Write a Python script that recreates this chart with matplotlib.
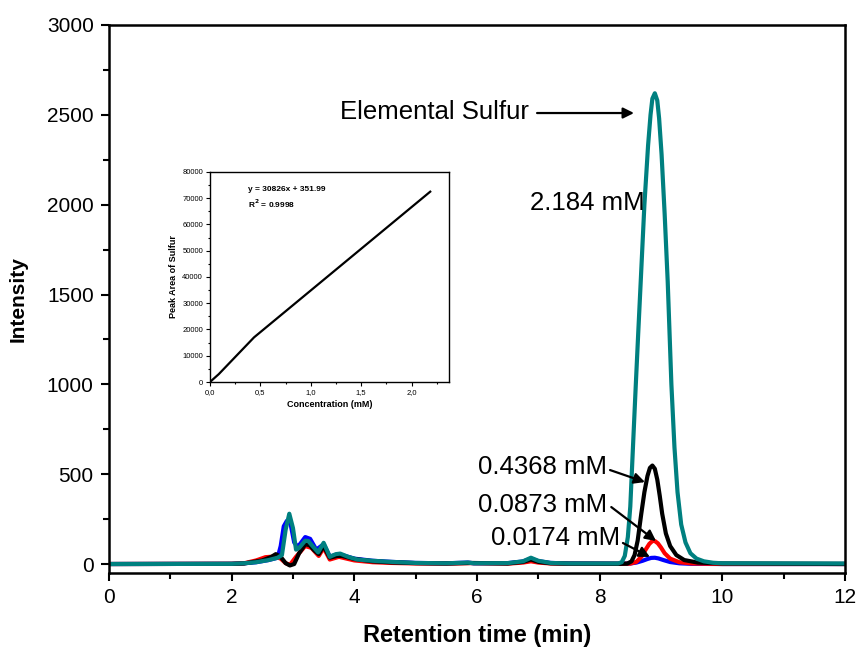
import matplotlib
matplotlib.use("Agg")
import matplotlib.pyplot as plt
from matplotlib.ticker import MultipleLocator, FixedLocator

plt.rcParams['font.family'] = ['Liberation Sans', 'DejaVu Sans']

# chromatogram traces (time in min, intensity)
t_blue = [0, 2.0, 2.2, 2.4, 2.6, 2.75, 2.8, 2.85, 2.9, 2.96, 3.02, 3.08, 3.2, 3.28, 3.38, 3.5, 3.6, 3.72, 3.8, 4.0, 4.3, 4.6, 5.0, 5.5, 5.85, 5.95, 6.5, 6.75, 6.88, 7.0, 7.2, 7.5,
          8.3, 8.5, 8.6, 8.7, 8.78, 8.84, 8.9, 8.96, 9.04, 9.15, 9.3, 9.5, 10.0, 12.0]
i_blue = [0, 1, 4, 10, 22, 35, 100, 210, 240, 225, 120, 95, 150, 140, 80, 110, 42, 52, 50, 30, 18, 12, 6, 4, 8, 4, 5, 14, 30, 16, 6, 3,
          2, 3, 8, 18, 28, 34, 35, 31, 22, 11, 4, 1, 0, 0]

t_red = [0, 2.0, 2.2, 2.4, 2.55, 2.7, 2.8, 2.88, 2.95, 3.05, 3.2, 3.3, 3.42, 3.5, 3.6, 3.75, 4.0, 4.3, 4.6, 5.0, 5.5, 5.9, 6.5, 6.75, 6.88, 7.0, 7.2, 7.5,
         8.3, 8.5, 8.6, 8.68, 8.75, 8.81, 8.86, 8.9, 8.95, 9.0, 9.06, 9.15, 9.3, 9.5, 10.0, 12.0]
i_red = [0, 1, 4, 20, 38, 42, 30, 5, -5, 40, 100, 90, 45, 90, 25, 40, 20, 10, 6, 3, 2, 5, 2, 8, 15, 8, 3, 1,
         1, 2, 12, 40, 80, 112, 128, 128, 115, 92, 60, 30, 10, 3, 0, 0]

t_black = [0, 2.0, 2.2, 2.5, 2.65, 2.72, 2.8, 2.88, 2.95, 3.02, 3.1, 3.2, 3.27, 3.35, 3.42, 3.5, 3.6, 3.72, 3.8, 4.0, 4.3, 4.6, 5.0, 5.5, 5.9, 6.5, 6.75, 6.88, 7.0, 7.2, 7.5,
           8.3, 8.45, 8.52, 8.57, 8.62, 8.68, 8.73, 8.78, 8.82, 8.86, 8.9, 8.94, 8.98, 9.02, 9.08, 9.15, 9.25, 9.38, 9.6, 10.0, 12.0]
i_black = [0, 1, 3, 20, 40, 55, 40, 5, -8, 0, 60, 110, 105, 75, 55, 100, 35, 45, 45, 28, 15, 9, 5, 3, 6, 3, 12, 25, 12, 4, 2,
           1, 2, 15, 50, 130, 282, 400, 490, 535, 548, 530, 470, 380, 280, 170, 100, 50, 22, 8, 3, 0]

t_teal = [0, 2.0, 2.2, 2.4, 2.6, 2.75, 2.82, 2.88, 2.94, 3.0, 3.05, 3.1, 3.2, 3.25, 3.32, 3.41, 3.5, 3.55, 3.6, 3.7, 3.77, 3.9, 4.05, 4.3, 4.6, 5.0, 5.5, 5.85, 5.95, 6.5, 6.75, 6.88, 7.0, 7.2, 7.5,
          8.3, 8.36, 8.41, 8.46, 8.5, 8.55, 8.59, 8.63, 8.67, 8.73, 8.79, 8.83, 8.86, 8.9, 8.94, 8.97, 9.01, 9.06, 9.11, 9.17, 9.22, 9.27, 9.33, 9.4, 9.48, 9.58, 9.7, 9.85, 10.0, 12.0]
i_teal = [0, 1, 4, 10, 22, 35, 50, 190, 280, 200, 80, 90, 130, 128, 100, 65, 118, 80, 40, 55, 58, 40, 25, 18, 12, 6, 4, 8, 4, 5, 15, 35, 18, 6, 3,
          3, 10, 45, 150, 320, 700, 1000, 1290, 1572, 2000, 2330, 2500, 2590, 2620, 2580, 2480, 2280, 1950, 1572, 1000, 650, 400, 220, 120, 60, 30, 15, 7, 4, 3]

# calibration inset
conc = [0.0, 0.0174, 0.0873, 0.4368, 2.184]
area = [0, 600, 3000, 17000, 72500]
inset_xticks = [0.0, 0.5, 1.0, 1.5, 2.0]
inset_xlabels = ['0,0', '0,5', '1,0', '1,5', '2,0']

fig = plt.figure(figsize=(8.56, 6.49), dpi=100)
ax = fig.add_axes([0.1273, 0.1171, 0.8598, 0.8444])

ax.plot(t_blue, i_blue, color='blue', lw=3)
ax.plot(t_red, i_red, color='red', lw=3)
ax.plot(t_black, i_black, color='black', lw=3)
ax.plot(t_teal, i_teal, color='#008080', lw=3)

ax.set_xlim(0, 12)
ax.set_ylim(-50, 3000)
ax.xaxis.set_major_locator(MultipleLocator(2))
ax.xaxis.set_minor_locator(MultipleLocator(1))
ax.yaxis.set_major_locator(MultipleLocator(500))
ax.yaxis.set_minor_locator(MultipleLocator(250))
ax.tick_params(which='major', direction='out', length=6, width=1.5, labelsize=15, pad=5)
ax.tick_params(which='minor', direction='out', length=4, width=1.5)
for s in ax.spines.values():
    s.set_linewidth(1.8)
ax.set_xlabel('Retention time (min)', fontsize=17, fontweight='bold', labelpad=12)
ax.set_ylabel('Intensity', fontsize=15, fontweight='bold', labelpad=14)

# labels and arrows
arr = dict(arrowstyle='-|>', color='black', lw=1.6, mutation_scale=16, shrinkA=0, shrinkB=0)
ax.text(3.77, 2515, 'Elemental Sulfur', fontsize=18.5, va='center', ha='left')
ax.annotate('', xy=(8.56, 2510), xytext=(6.98, 2510), arrowprops=arr)
ax.text(6.86, 2009, '2.184 mM', fontsize=18.5, va='center', ha='left')
ax.text(6.02, 540, '0.4368 mM', fontsize=18.5, va='center', ha='left')
ax.annotate('', xy=(8.74, 456), xytext=(8.17, 523), arrowprops=arr)
ax.text(6.02, 328, '0.0873 mM', fontsize=18.5, va='center', ha='left')
ax.annotate('', xy=(8.92, 128), xytext=(8.19, 317), arrowprops=arr)
ax.text(6.23, 145, '0.0174 mM', fontsize=18.5, va='center', ha='left')
ax.annotate('', xy=(8.82, 39), xytext=(8.38, 117), arrowprops=arr)

# inset
ins = fig.add_axes([0.2453, 0.4114, 0.2792, 0.3236])
ins.plot(conc, area, color='black', lw=1.6)
ins.set_xlim(0, 2.37)
ins.set_ylim(0, 80000)
ins.xaxis.set_major_locator(FixedLocator(inset_xticks))
ins.set_xticklabels(inset_xlabels)
ins.xaxis.set_minor_locator(MultipleLocator(0.25))
ins.yaxis.set_major_locator(MultipleLocator(10000))
ins.yaxis.set_minor_locator(MultipleLocator(5000))
ins.tick_params(which='major', direction='out', length=3, width=0.8, labelsize=5.5, pad=2)
ins.tick_params(which='minor', direction='out', length=1.5, width=0.8)
for s in ins.spines.values():
    s.set_linewidth(1.0)
ins.set_xlabel('Concentration (mM)', fontsize=6.5, fontweight='bold', labelpad=3)
ins.set_ylabel('Peak Area of Sulfur', fontsize=6.5, fontweight='bold', labelpad=3)
ins.text(0.38, 73400, 'y = 30826x + 351.99', fontsize=6, fontweight='bold', va='center')
ins.text(0.38, 68000, r'R$^\mathbf{2}$ = 0.9998', fontsize=6, fontweight='bold', va='center')

fig.savefig('out.png', dpi=100)
